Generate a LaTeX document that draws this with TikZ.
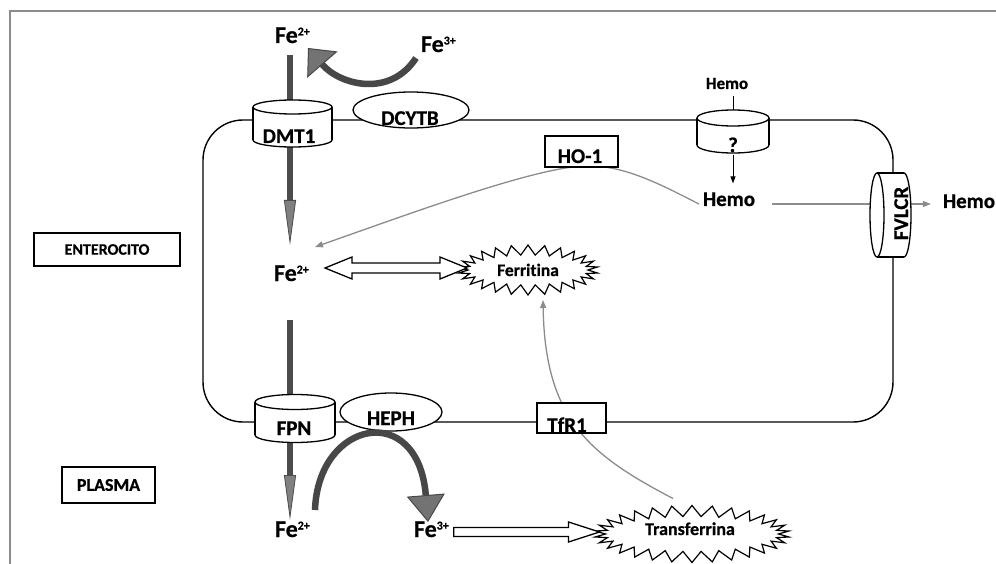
\documentclass[tikz,border=0pt]{standalone}
\usepackage{fontspec}
\setmainfont{Carlito}[Ligatures=NoCommon, BoldFeatures={FakeBold=0.6}]
\usetikzlibrary{arrows.meta,shapes.symbols,calc}
\newcommand\myscript[1]{\raisebox{7.5pt}{\fontsize{12pt}{12pt}\selectfont #1}}
\newcommand\vcyl[5]{% cx, top y, bottom y, rx, ry
  \draw[cyl] (#1,#3) ellipse[x radius=#4,y radius=#5];
  \fill[white] (#1-#4,#2) rectangle (#1+#4,#3);
  \draw[cylside] (#1-#4,#2) -- (#1-#4,#3) (#1+#4,#2) -- (#1+#4,#3);
  \draw[cyl] (#1,#2) ellipse[x radius=#4,y radius=#5];}
\newcommand\hcyl[5]{% cy, left x, right x, rx, ry
  \draw[cyl] (#3,#1) ellipse[x radius=#4,y radius=#5];
  \fill[white] (#2,#1-#5) rectangle (#3,#1+#5);
  \draw[cylside] (#2,#1-#5) -- (#3,#1-#5) (#2,#1+#5) -- (#3,#1+#5);
  \draw[cyl] (#2,#1) ellipse[x radius=#4,y radius=#5];}
\begin{document}
\begin{tikzpicture}[x=1pt,y=-1pt,
  every node/.style={inner sep=0pt, outer sep=0pt},
  txt/.style={font=\fontsize{21pt}{21pt}\selectfont\bfseries, anchor=base},
  fetxt/.style={font=\fontsize{24pt}{24pt}\selectfont\bfseries, anchor=base west},
  cyl/.style={draw=black, fill=white, line width=1.3pt},
  cylside/.style={draw=black, line width=1.3pt},
  memb/.style={draw=black, line width=1.4pt},
  frameline/.style={draw=black!45, line width=2.5pt},
  rbox/.style={draw=black, fill=white, line width=1.3pt},
  greyarrow/.style={draw=black!45, line width=1.3pt, -{Triangle[length=8pt,width=6pt]}},
  blkline/.style={draw=black, line width=1pt},
  blkarrow/.style={draw=black, line width=1pt, -{Triangle[length=7pt,width=5pt]}},
  thickv/.style={draw=black!70, line width=6pt, -{Triangle[length=45pt,width=12pt,line width=0.8pt,fill=black!50]}},
  thickc/.style={draw=black!72, line width=6.5pt},
  hollow/.style={draw=black, fill=white, line width=1.3pt, line join=miter},
  burst/.style={starburst, draw=black, fill=white, line width=1.2pt, random starburst=0}
]
\useasboundingbox (0,0) rectangle (996,564);
\fill[white] (0,0) rectangle (996,564);
\draw[frameline] (10,566) -- (10,11) -- (998,11);

% cell membrane
\draw[memb, rounded corners=40pt] (203,120) rectangle (893,422);

% region labels
\node[rbox, minimum width=146pt, minimum height=33pt, font=\fontsize{16pt}{16pt}\selectfont\bfseries] (entero) at (107,249.5) {ENTEROCITO};
\node[rbox, minimum width=93pt, minimum height=36pt, font=\fontsize{18pt}{18pt}\selectfont\bfseries] (plasma) at (108.5,485) {PLASMA};

% iron labels
\node[fetxt] (fetop) at (275,43) {Fe\myscript{2+}};
\node[fetxt] (fe3top) at (421,52) {Fe\myscript{3+}};
\node[fetxt] (fe2cell) at (274,281) {Fe\myscript{2+}};
\node[fetxt] (febot) at (275,537) {Fe\myscript{2+}};
\node[fetxt] (fe3bot) at (414,537) {Fe\myscript{3+}};

% anchor nodes of the transporters
\node[minimum width=79pt, minimum height=48pt] (dmt1) at (292.5,123) {};
\node[minimum width=80pt, minimum height=48pt] (fpn) at (295,419) {};
\node[minimum width=72pt, minimum height=43pt] (hemocyl) at (733,131.5) {};
\node[minimum width=41pt, minimum height=85pt] (fvlcr) at (890.5,215) {};
\coordinate (shaft) at (290,0);

% thick vertical arrows
\draw[thickv] ($(fetop.base -| shaft)+(0,12)$) -- ($(fe2cell.base -| shaft)+(0,-36)$);
\draw[thickv] ($(fe2cell.base -| shaft)+(0,39)$) -- ($(febot.base -| shaft)+(0,-17)$);

% starbursts
\node[burst, minimum width=140pt, minimum height=50pt, starburst points=26, starburst point height=10pt] (ferr) at (528,270) {};
\node[font=\fontsize{17.5pt}{17.5pt}\selectfont\bfseries, anchor=base] at (528,276) {Ferritina};
\node[burst, minimum width=195pt, minimum height=57pt, starburst points=30, starburst point height=11pt] (transf) at (692,534) {};
\node[font=\fontsize{18pt}{18pt}\selectfont\bfseries, anchor=base] at (690,535) {Transferrina};

% hemo labels
\node[font=\fontsize{17pt}{17pt}\selectfont\bfseries, anchor=base] (hemotop) at (727,89) {Hemo};
\node[txt] (hemomid) at (729,206) {Hemo};
\node[txt] (hemoright) at (969,208) {Hemo};

% thin grey connectors
\draw[greyarrow] ($(hemomid.base west)+(-4,-2)$) .. controls (660,184) and (625,166) .. (590,166)
   .. controls (545,164) and (420,210) .. ($(fe2cell.base west)+(41,-34)$);
\draw[greyarrow] ($(transf.north)+(-19,-7)$) .. controls (590,455) and (545,420) .. ($(ferr.south)+(15,5)$);
\draw[greyarrow] ($(hemomid.base east)+(17,-2)$) -- ($(hemoright.base west)+(-12,-4)$);

% hemo uptake
\draw[blkline] ($(hemotop.base -| hemocyl.center)+(0,7)$) -- (hemocyl.north);

% membrane proteins
\draw[cyl] (411,110) ellipse[x radius=58,y radius=18];
\node[txt] (dcytb) at (410,125) {DCYTB};
\draw[cyl] (391,412) ellipse[x radius=51,y radius=19];
\node[txt] (heph) at (391,425) {HEPH};
\vcyl{292.5}{107}{140}{39.5}{7}
\node[txt] (dmt1lbl) at (289,143) {DMT1};
\vcyl{295}{402}{435}{40}{7.5}
\node[txt] (fpnlbl) at (294,435) {FPN};
\vcyl{733}{118}{145}{36}{8}
\node[txt] (q) at (733,152) {?};
\draw[blkarrow] ($(q.base)+(0,3)$) -- ($(hemomid.north -| hemocyl.center)+(0,-9)$);
\hcyl{215}{877}{904}{7}{42}
\node[txt, rotate=90] (fvlcrlbl) at (908,213.5) {FVLCR};

\node[rbox, minimum width=73pt, minimum height=31pt] (ho1) at (581.5,151.5) {};
\node[txt] (ho1lbl) at (580,163) {HO-1};
\node[rbox, minimum width=69pt, minimum height=30pt] (tfr1) at (571.5,418) {};
\node[txt] (tfr1lbl) at (567,432) {TfR1};

% curved thick arrows
\draw[thickc, -{Triangle[length=22pt,width=40pt,line width=1pt,fill=black!55]}]
  ($(fe3top.base west)+(-5,6)$) .. controls (390,98) and (340,85) .. ($(fetop.base west)+(33,5)$);
\draw[thickc, -{Triangle[length=27pt,width=38pt,line width=1pt,fill=black!55]}]
  ($(febot.base west)+(40,-27)$) .. controls (318,420) and (418,400) .. ($(fe3bot.base west)+(14,-15)$);

% hollow arrows
\coordinate (dl) at ($(fe2cell.base west)+(51,-13)$);
\coordinate (dr) at ($(ferr.west)+(-1,-2)$);
\draw[hollow] (dl) -- ++(27,-11) -- ++(0,6) -- ($(dr)+(-27,-5)$) -- ++(0,-6) -- (dr)
  -- ++(-27,11) -- ++(0,-6) -- ($(dl)+(27,5)$) -- ++(0,6) -- cycle;
\coordinate (sa) at ($(fe3bot.base east)+(5,-5)$);
\coordinate (st) at ($(transf.west)+(-6,-2)$);
\draw[hollow] ($(sa)+(0,-4.5)$) -- ($(st)+(-31,-4.5)$) -- ++(0,-5.5) -- (st) -- ++(-31,10)
  -- ++(0,-5.5) -- ($(sa)+(0,4.5)$) -- cycle;
\end{tikzpicture}
\end{document}
